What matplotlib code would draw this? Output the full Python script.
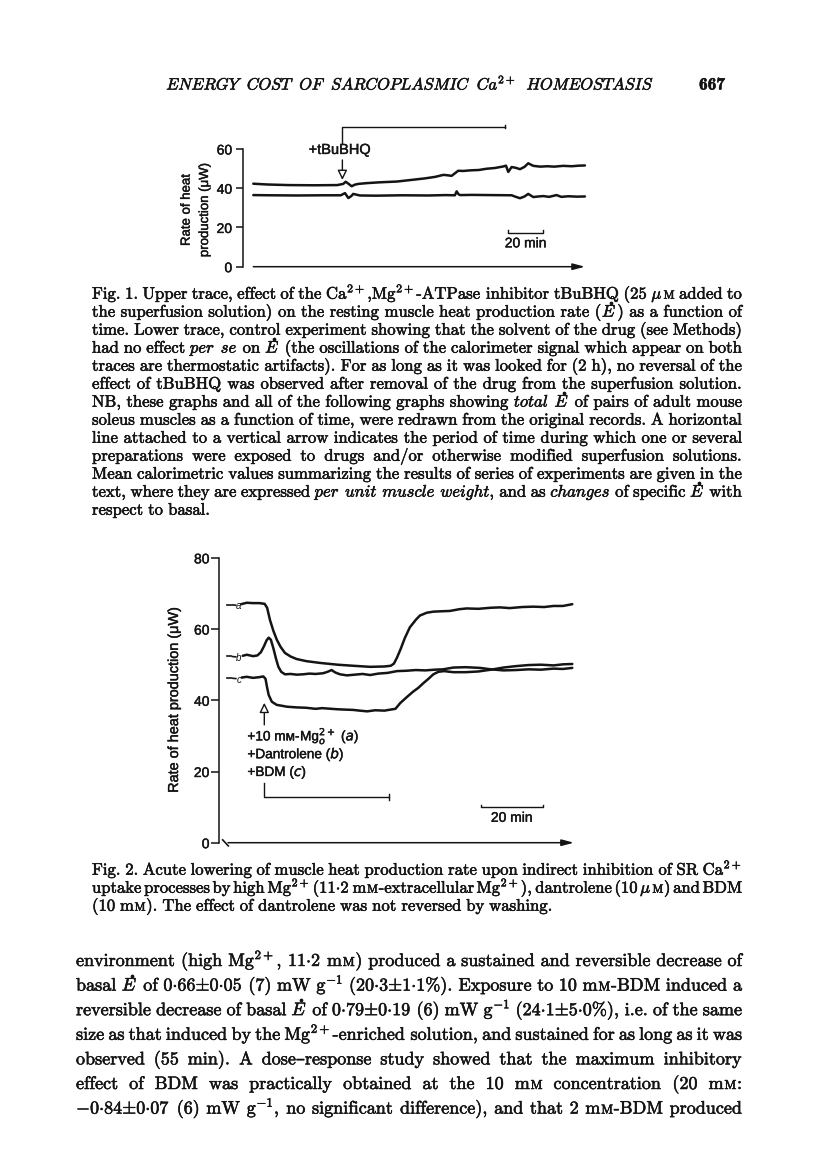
import re
import matplotlib
matplotlib.use('Agg')
import matplotlib.pyplot as plt
from matplotlib import patheffects as pe
from matplotlib.lines import Line2D

# ====================== DATA ======================
# ---- Fig. 1: time (min) vs rate of heat production (µW)
f1_yticks = [0, 20, 40, 60]
f1_upper_t = [0, 8, 20, 35, 48, 51.4, 52.8, 54.5, 56.2, 58, 60, 65, 72, 82, 91,
              98, 104, 108.6, 111, 113.3, 115.2, 117.1, 120, 124, 129, 133, 138,
              142.9, 144.4, 145.7, 147.6, 150, 152.4, 155, 157.1, 160, 164, 168,
              172, 177, 182, 186, 189.5]
f1_upper_v = [42.3, 41.9, 41.6, 41.5, 41.6, 42.2, 43.3, 42.2, 41.0, 41.8, 42.2,
              42.6, 43.0, 43.4, 44.3, 45.0, 45.8, 46.8, 46.6, 46.3, 47.6, 48.9,
              48.8, 49.1, 49.3, 49.9, 50.3, 51.1, 51.5, 48.3, 50.8, 50.4, 49.7,
              50.9, 52.7, 51.4, 51.0, 51.2, 51.0, 51.4, 51.2, 51.5, 51.6]
f1_lower_t = [0, 10, 25, 40, 50, 52.4, 54.3, 56, 57.1, 60.9, 70, 85, 100, 110,
              115.2, 116.2, 117.2, 118.1, 125, 135, 147.6, 150, 152.4, 155, 157.1,
              160, 163, 165.7, 169, 173.3, 176, 180, 185, 189.5]
f1_lower_v = [36.5, 36.4, 36.3, 36.4, 36.4, 37.5, 35.0, 36.0, 37.1, 36.3, 36.2,
              36.4, 36.3, 36.5, 36.4, 38.4, 37.0, 36.5, 36.6, 36.5, 36.4, 35.6,
              34.9, 35.8, 37.1, 35.5, 35.8, 36.0, 35.6, 36.5, 35.6, 35.9, 35.7, 35.8]
f1_time_end = 189.5
f1_drug = (50.9, 143.8)          # exposure period to tBuBHQ (min)
f1_drug_label = '+tBuBHQ'
f1_scale = (145.7, 20)           # scale bar start, length (min)
f1_scale_label = '20 min'
f1_ylabel = ['Rate of heat', 'production (μW)']

# ---- Fig. 2
f2_yticks = [0, 20, 40, 60, 80]
f2_a_t = [4.2, 6, 8, 10, 11.7, 12.5, 13.4, 14.5, 15.6, 16.8, 18.2, 20, 21.9, 25,
          29.4, 35, 40, 45.4, 50, 52, 53, 54, 55.2, 56.5, 58.1, 60, 61.3, 63.5,
          65.6, 68, 70.9, 74, 76.3, 80, 84, 86.9, 90, 94, 97.5, 101, 104, 107, 110]
f2_a_v = [67.0, 67.4, 67.3, 67.3, 67.1, 66.0, 62.6, 59.5, 57.0, 55.0, 53.3, 52.3,
          51.6, 51.0, 50.5, 50.0, 49.7, 49.4, 49.5, 49.7, 50.3, 52.0, 54.5, 57.5,
          60.5, 62.6, 63.8, 64.6, 64.9, 65.0, 65.1, 65.6, 65.8, 65.7, 66.0, 66.1,
          65.9, 66.2, 66.3, 66.2, 66.5, 66.5, 67.0]
f2_b_t = [4.7, 6, 8, 9.4, 10.5, 11.5, 12.3, 13.0, 13.7, 14.5, 15.3, 16.1, 17.0,
          18.2, 20, 22, 24, 26, 28, 30.4, 31.8, 33.1, 34.3, 35.8, 38, 40.5, 43,
          45.4, 48, 51, 54, 57, 60, 63, 66, 68.7, 72, 76, 80.5, 84, 88, 92, 96,
          100, 104, 107, 110]
f2_b_v = [52.5, 52.8, 52.4, 52.6, 53.5, 55.2, 56.8, 57.6, 57.0, 54.6, 51.8, 49.4,
          48.0, 47.3, 47.4, 47.2, 47.3, 47.5, 47.4, 47.6, 48.0, 48.5, 47.8, 47.3,
          47.0, 47.2, 47.4, 47.1, 47.5, 47.7, 48.2, 48.3, 48.5, 48.4, 48.6, 48.7,
          49.2, 49.3, 49.1, 48.7, 48.4, 48.5, 48.7, 48.6, 48.9, 48.8, 49.1]
f2_c_t = [4.4, 6, 8, 10, 11.3, 12.0, 12.4, 13.0, 14.0, 15.6, 17, 18.8, 22, 25, 28,
          30, 34.7, 37, 40, 42, 44.5, 47, 50, 52, 53.5, 55, 57, 59.1, 60.8, 62.4,
          64, 65.6, 67.2, 69, 72, 76, 80, 84, 88, 92, 96, 100, 104, 107, 110]
f2_c_v = [46.4, 46.6, 46.3, 46.5, 46.7, 46.0, 44.0, 41.5, 39.6, 38.7, 38.5, 38.2,
          38.0, 37.9, 37.6, 37.8, 37.5, 37.4, 37.3, 37.1, 36.9, 37.2, 37.1, 37.4,
          37.6, 39.2, 40.8, 42.4, 43.5, 44.8, 46.0, 47.3, 48.0, 48.2, 47.9, 47.9,
          48.1, 48.6, 49.2, 49.6, 49.9, 50.0, 49.8, 50.1, 50.2]
f2_names = ['a', 'b', 'c']
f2_time_end = 110.5
f2_drug = (11.6, 51.5)
f2_drug_labels = ['+10 mᴍ-', 'Mg$_o^{2+}$ ($a$)', '+Dantrolene ($b$)', '+BDM ($c$)']
f2_scale = (80.7, 20)
f2_scale_label = '20 min'
f2_ylabel = 'Rate of heat production (μW)'

# ---- page text  (@X@ = small capital, ~ = E with a dot above)
header = (r'$\mathit{ENERGY}\ \;\mathit{COST}\ \;\mathit{OF}\ \;\mathit{SARCOPLASMIC}'
          r'\ \;\mathit{Ca}^{2+}\ \;\mathit{HOMEOSTASIS}$')
page_no = '667'
caption1 = [
    r"Fig. 1. Upper trace, effect of the Ca$^{2+}$,Mg$^{2+}$-ATPase inhibitor tBuBHQ (25 $\mu$@M@ added to",
    r"the superfusion solution) on the resting muscle heat production rate (~) as a function of",
    r"time. Lower trace, control experiment showing that the solvent of the drug (see Methods)",
    r"had no effect $\mathit{per}$ $\mathit{se}$ on ~ (the oscillations of the calorimeter signal which appear on both",
    r"traces are thermostatic artifacts). For as long as it was looked for (2 h), no reversal of the",
    r"effect of tBuBHQ was observed after removal of the drug from the superfusion solution.",
    r"NB, these graphs and all of the following graphs showing $\mathit{total}$ ~ of pairs of adult mouse",
    r"soleus muscles as a function of time, were redrawn from the original records. A horizontal",
    r"line attached to a vertical arrow indicates the period of time during which one or several",
    r"preparations were exposed to drugs and/or otherwise modified superfusion solutions.",
    r"Mean calorimetric values summarizing the results of series of experiments are given in the",
    r"text, where they are expressed $\mathit{per}$ $\mathit{unit}$ $\mathit{muscle}$ $\mathit{weight}$, and as $\mathit{changes}$ of specific ~ with",
    r"respect to basal.",
]
caption2 = [
    r"Fig. 2. Acute lowering of muscle heat production rate upon indirect inhibition of SR Ca$^{2+}$",
    r"uptake processes by high Mg$^{2+}$ ($11{\cdot}2$ m@M@-extracellular Mg$^{2+}$), dantrolene (10 $\mu$@M@) and BDM",
    r"(10 m@M@). The effect of dantrolene was not reversed by washing.",
]
body = [
    r"environment (high Mg$^{2+}$, $11{\cdot}2$ m@M@) produced a sustained and reversible decrease of",
    r"basal ~ of $0{\cdot}66{\pm}0{\cdot}05$ (7) mW $\mathrm{g}^{-1}$ ($20{\cdot}3{\pm}1{\cdot}1$%). Exposure to 10 m@M@-BDM induced a",
    r"reversible decrease of basal ~ of $0{\cdot}79{\pm}0{\cdot}19$ (6) mW $\mathrm{g}^{-1}$ ($24{\cdot}1{\pm}5{\cdot}0$%), i.e. of the same",
    r"size as that induced by the Mg$^{2+}$-enriched solution, and sustained for as long as it was",
    r"observed (55 min). A dose–response study showed that the maximum inhibitory",
    r"effect of BDM was practically obtained at the 10 m@M@ concentration (20 m@M@:",
    r"$-0{\cdot}84{\pm}0{\cdot}07$ (6) mW $\mathrm{g}^{-1}$, no significant difference), and that 2 m@M@-BDM produced",
]

# ====================== STYLE / LAYOUT ======================
plt.rcParams['font.family'] = ['Liberation Sans', 'DejaVu Sans']
plt.rcParams['mathtext.fontset'] = 'cm'
INK = '#141414'
SERIF = ['cmr10', 'DejaVu Serif', 'DejaVu Sans']
W, H, DPI = 816, 1160, 100
PT = DPI / 72.0
SANS_FX = [pe.withStroke(linewidth=0.3, foreground=INK)]
SERIF_FX = [pe.withStroke(linewidth=0.4, foreground=INK)]
fig = plt.figure(figsize=(W / DPI, H / DPI), dpi=DPI)
fig.patch.set_facecolor('white')
R = fig.canvas.get_renderer()


def fx(x):
    return x / W


def fy(y):
    return 1 - y / H


def width(t):
    return t.get_window_extent(renderer=R).width


def stext(*args, **kw):
    t = fig.text(*args, color=INK, **kw)
    t.set_path_effects(SANS_FX)
    return t


def make_axes(x0, sx, xlim, y0, sy, ylim):
    left = x0 + xlim[0] * sx
    right = x0 + xlim[1] * sx
    top = y0 - ylim[1] * sy
    bottom = y0 - ylim[0] * sy
    ax = fig.add_axes([left / W, 1 - bottom / H, (right - left) / W, (bottom - top) / H])
    ax.set_xlim(*xlim)
    ax.set_ylim(*ylim)
    ax.patch.set_alpha(0)
    for s in ('top', 'right', 'bottom'):
        ax.spines[s].set_visible(False)
    ax.spines['left'].set_linewidth(1.1)
    ax.spines['left'].set_color(INK)
    ax.set_xticks([])
    return ax


def axis_arrow(ax, x_end):
    ax.annotate('', xy=(x_end, 0), xytext=(0, 0), annotation_clip=False,
                arrowprops=dict(arrowstyle='-|>,head_length=0.6,head_width=0.16',
                                color=INK, lw=1.1, shrinkA=0, shrinkB=0,
                                mutation_scale=12))


def open_arrow(ax, x, y_from, y_to):
    ax.annotate('', xy=(x, y_to), xytext=(x, y_from), annotation_clip=False,
                arrowprops=dict(arrowstyle='-|>,head_length=0.45,head_width=0.22',
                                facecolor='white', edgecolor=INK, lw=1.0,
                                shrinkA=0, shrinkB=0, mutation_scale=13))


def style_ticks(ax):
    for lab in ax.get_yticklabels():
        lab.set_path_effects(SANS_FX)


TR = dict(color=INK, lw=1.8, solid_joinstyle='round', solid_capstyle='round')
THIN = dict(color=INK, lw=1.0)

# ---------------- Fig. 1 ----------------
ax1 = make_axes(253.3, 1.75, (-5.7, 192), 266.7, 1.962, (-4, 75))
ax1.spines['left'].set_bounds(0, 60)
ax1.set_yticks(f1_yticks)
ax1.tick_params(axis='y', length=5, width=1.1, pad=3, labelsize=10, colors=INK)
style_ticks(ax1)
ax1.plot(f1_upper_t, f1_upper_v, **TR)
ax1.plot(f1_lower_t, f1_lower_v, **TR)
axis_arrow(ax1, f1_time_end)
d0, d1 = f1_drug
ax1.plot([d0, d0, d1], [62.9, 71.4, 71.4], **THIN)
ax1.plot([d1, d1], [70.5, 72.3], **THIN)
t = ax1.text(d0 - 1.4, 59.5, f1_drug_label, ha='center', va='center', fontsize=10.5, color=INK)
t.set_path_effects(SANS_FX)
open_arrow(ax1, d0, 54.4, 44.2)
s0, s1 = f1_scale[0], f1_scale[0] + f1_scale[1]
ax1.plot([s0, s0, s1, s1], [18.8, 17.3, 17.3, 18.8], **THIN)
t = ax1.text((s0 + s1) / 2, 11.9, f1_scale_label, ha='center', va='center', fontsize=10, color=INK)
t.set_path_effects(SANS_FX)
stext(fx(186.7), fy(210), f1_ylabel[0], rotation=90, ha='center', va='center', fontsize=9.5)
stext(fx(205.0), fy(210), f1_ylabel[1], rotation=90, ha='center', va='center', fontsize=9.5)

# ---------------- Fig. 2 ----------------
ax2 = make_axes(228, 3.13, (-2.8, 112), 842.7, 3.56, (-5, 85))
ax2.spines['left'].set_bounds(0, 80)
ax2.set_yticks(f2_yticks)
ax2.tick_params(axis='y', length=5.5, width=1.1, pad=1.5, labelsize=10, colors=INK)
style_ticks(ax2)
axis_arrow(ax2, f2_time_end)
ax2.plot([-1.7, 0.1], [0.8, -0.9], color=INK, lw=1.2)

for name, tt, vv in zip(f2_names, [f2_a_t, f2_b_t, f2_c_t], [f2_a_v, f2_b_v, f2_c_v]):
    ax2.plot(tt, vv, **TR)
    lead = vv[0]
    ax2.plot([-0.4, 0.9], [lead - 0.1, lead - 0.1], color=INK, lw=1.2)
    ax2.plot([1.4, 2.5], [lead - 0.2, lead - 0.3], color=INK, lw=1.2)
    ax2.text(3.4, lead - 0.6, name, style='italic', fontsize=7, ha='center', va='center', color=INK)

g0, g1 = f2_drug
open_arrow(ax2, g0, 33.1, 39.3)
ax2.plot([g0, g0, g1], [16.9, 12.8, 12.8], **THIN)
ax2.plot([g1, g1], [12.0, 13.6], **THIN)

LBL_FS = 9.8
lab_x, lab_y = ax2.transData.transform((6.2, 30.1))
base = lab_y - 0.36 * LBL_FS * PT
t1 = fig.text(lab_x / W, base / H, f2_drug_labels[0], fontsize=LBL_FS, ha='left', va='baseline', color=INK)
t1.set_path_effects(SANS_FX)
t2 = fig.text((lab_x + width(t1) + 0.5) / W, base / H, f2_drug_labels[1], fontsize=LBL_FS,
              ha='left', va='baseline', color=INK, math_fontfamily='dejavusans')
t2.set_path_effects(SANS_FX)
for lbl, yv in zip(f2_drug_labels[2:], [25.1, 20.1]):
    xx, yy = ax2.transData.transform((6.2, yv))
    t = fig.text(xx / W, (yy - 0.36 * LBL_FS * PT) / H, lbl, fontsize=LBL_FS, ha='left',
                 va='baseline', color=INK, math_fontfamily='dejavusans')
    t.set_path_effects(SANS_FX)

s0, s1 = f2_scale[0], f2_scale[0] + f2_scale[1]
ax2.plot([s0, s0, s1, s1], [10.7, 9.9, 9.9, 10.7], **THIN)
t = ax2.text((s0 + s1) / 2, 7.0, f2_scale_label, ha='center', va='center', fontsize=10, color=INK)
t.set_path_effects(SANS_FX)
stext(fx(174), fy(700), f2_ylabel, rotation=90, ha='center', va='center', fontsize=10.4)

# ---------------- page text ----------------
SC = 0.72
SP = 0.30
MIN_GAP = 0.16
SPLIT = re.compile(r'(@[A-Z]+@|~)')


def build_words(line, fs):
    words = []
    for w in line.split(' '):
        objs = []
        for p in SPLIT.split(w):
            if not p:
                continue
            kind = 'n'
            sc = 1.0
            if p.startswith('@') and p.endswith('@') and len(p) > 2:
                p, sc = p[1:-1], SC
            elif p == '~':
                p, kind = '$E$', 'dot'
            t = fig.text(0, 0, p, fontsize=fs * sc, family=SERIF, color=INK,
                         ha='left', va='baseline')
            t.set_path_effects(SERIF_FX)
            objs.append([t, sc, kind])
        words.append(objs)
    return words


def word_width(objs, fs):
    return sum(width(o[0]) for o in objs) + 0.04 * fs * PT * (len(objs) - 1)


def fit_size(lines, x0, x1, justify_last=False, s0=10.0):
    target = x1 - x0
    ratios = []
    tmp = [build_words(l, s0) for l in lines]
    for i, ws in enumerate(tmp):
        if i == len(lines) - 1 and not justify_last:
            continue
        nat = sum(word_width(o, s0) for o in ws) + (len(ws) - 1) * SP * s0 * PT
        ratios.append(nat / target)
    for ws in tmp:
        for objs in ws:
            for o in objs:
                o[0].remove()
    ratios.sort()
    ref = ratios[int(0.7 * (len(ratios) - 1))]
    return s0 / ref


def paragraph(lines, x0, x1, yc0, dy, fs, justify_last=False):
    target = x1 - x0
    for i, line in enumerate(lines):
        ws = build_words(line, fs)
        just = i < len(lines) - 1 or justify_last
        lfs = fs
        wl = [word_width(o, lfs) for o in ws]
        n = max(len(ws) - 1, 1)
        if just:
            gap = (target - sum(wl)) / n
            if gap < MIN_GAP * lfs * PT:
                k = target / (sum(wl) + MIN_GAP * lfs * PT * n)
                lfs = fs * k
                for objs in ws:
                    for o in objs:
                        o[0].set_fontsize(lfs * o[1])
                wl = [word_width(o, lfs) for o in ws]
                gap = (target - sum(wl)) / n
        else:
            gap = SP * lfs * PT
        yb = yc0 + i * dy + 0.22 * fs * PT
        x = x0
        for objs, w in zip(ws, wl):
            xx = x
            for t, sc, kind in objs:
                t.set_position((fx(xx), fy(yb)))
                tw = width(t)
                if kind == 'dot':
                    # dot accent drawn as a small marker above the italic E
                    dot_x = xx + 0.62 * tw
                    dot_y = (H - yb) + 0.68 * lfs * PT + 2.6
                    fig.add_artist(Line2D([dot_x / W], [dot_y / H], transform=fig.transFigure,
                                          marker='o', markersize=1.7, color=INK,
                                          linestyle='none'))
                xx += tw + 0.04 * lfs * PT
            x += w + gap


hdr = fig.text(0, 0, header, fontsize=12, color=INK, ha='center', va='baseline')
hdr.set_path_effects(SERIF_FX)
hdr.set_fontsize(12 * 488 / width(hdr))
hdr.set_position((fx(410), fy(89.5)))
t = fig.text(fx(725), fy(89.5), page_no, family=['cmb10', 'cmr10'], fontsize=12.5,
             ha='right', va='baseline', color=INK)
t.set_path_effects(SERIF_FX)

cap_fs = fit_size(caption1, 92, 742)
paragraph(caption1, 92, 742, 295, 18.0, cap_fs)
paragraph(caption2, 92, 742, 871, 18.0, cap_fs)
body_fs = fit_size(body, 76, 742, justify_last=True)
paragraph(body, 76, 742, 962, 24.6, body_fs, justify_last=True)

fig.savefig('out.png', dpi=DPI, facecolor='white')
